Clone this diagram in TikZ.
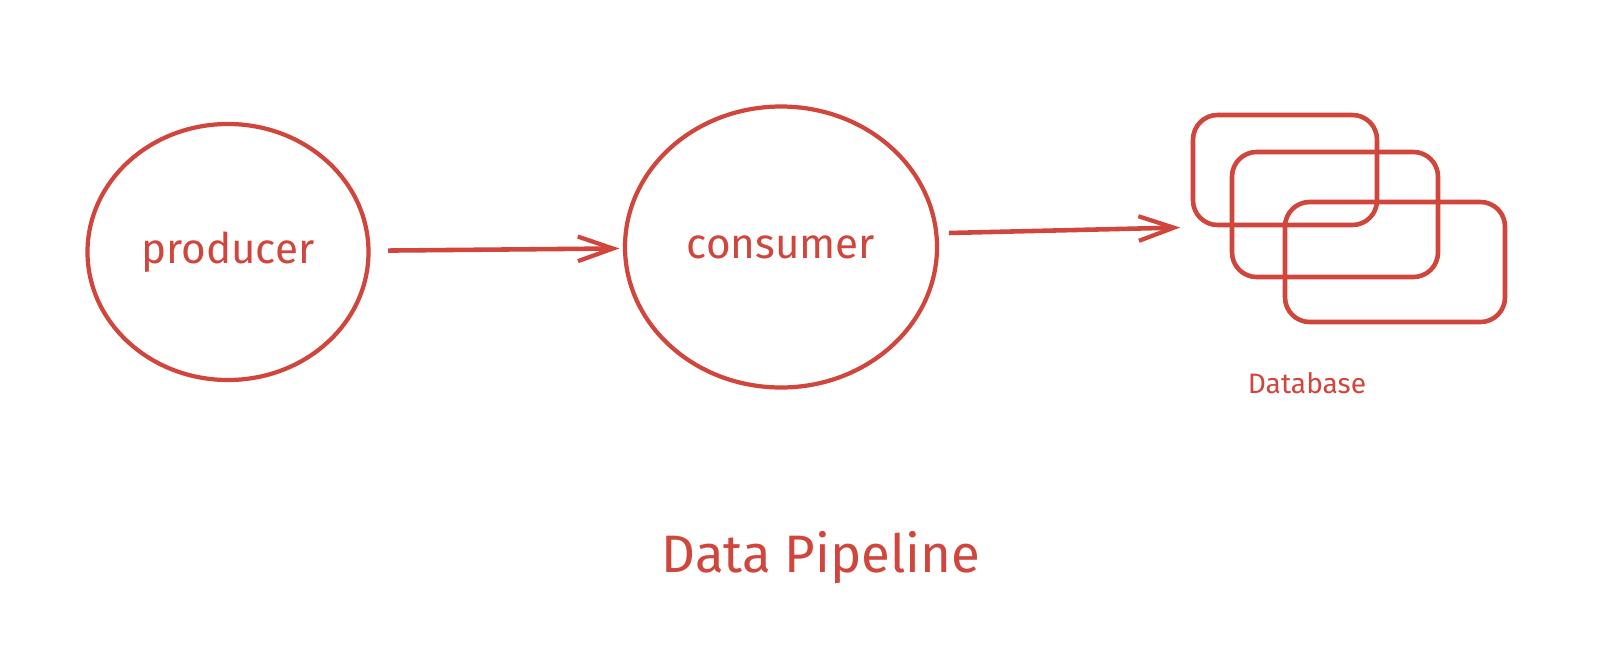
\documentclass[tikz,border=0pt]{standalone}
\usepackage{fontspec}
\setmainfont{Fira Sans}
\usepackage{tikz}
\usetikzlibrary{arrows.meta,shapes.geometric}
\definecolor{pen}{HTML}{D0453C}
\tikzstyle{arrow} = [line width=1.3pt, pen, -{Straight Barb[length=10pt,width=7pt,line width=1.2pt]}]
\tikzstyle{stage} = [draw=pen, line width=1.2pt, ellipse, inner sep=0pt,
  text=pen, font=\fontsize{12}{14}\selectfont]
\tikzstyle{store} = [draw=pen, line width=1.3pt, rounded corners=7pt, inner sep=0pt]

\begin{document}
\begin{tikzpicture}
    \useasboundingbox (0,0) rectangle (16.2,6.66);
    \node[stage,minimum width=2.81cm,minimum height=2.56cm] (producer) at (2.28,4.14) {producer};
    \node[stage,minimum width=3.12cm,minimum height=2.81cm] (consumer) at (7.81,4.19) {consumer};
    \node[store,minimum width=1.84cm,minimum height=1.10cm] (db1) at (12.85,4.96) {};
    \node[store,minimum width=2.06cm,minimum height=1.25cm] (db2) at (13.35,4.515) {};
    \node[store,minimum width=2.20cm,minimum height=1.20cm] (db3) at (13.95,4.04) {};
    \node[text=pen,font=\fontsize{8}{10}\selectfont] (dblabel) at (13.07,2.83) {Database};
    \node[text=pen,font=\fontsize{15}{18}\selectfont] (title) at (8.21,1.08) {Data Pipeline};
    \draw[arrow,shorten <=5pt,shorten >=1pt] (producer) -- (consumer);
    \draw[arrow,shorten <=3pt,shorten >=3pt] (consumer.5) -- (db1.south west);
\end{tikzpicture}
\end{document}
